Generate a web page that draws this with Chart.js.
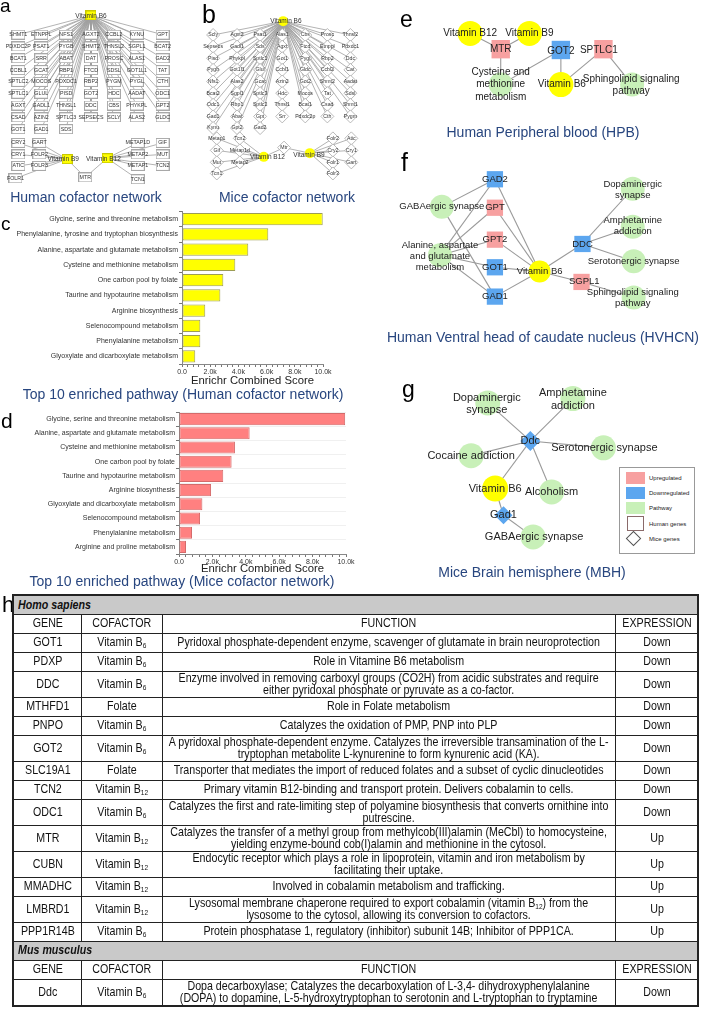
<!DOCTYPE html>
<html><head><meta charset="utf-8">
<script src="https://cdn.jsdelivr.net/npm/chart.js@4.4.1/dist/chart.umd.min.js"></script>
<style>
html,body{margin:0;padding:0;background:#fff}
body{width:709px;height:1019px;position:relative;overflow:hidden;font-family:"Liberation Sans",Arial,sans-serif}
canvas{position:absolute}
.t{position:absolute;white-space:nowrap;line-height:1;transform:translate(-50%,-50%);color:#28467f;font-size:14px}
.lab{position:absolute;line-height:1;color:#000;white-space:nowrap}
#tbl{position:absolute;left:12px;top:594px;width:685px;border-collapse:collapse;table-layout:fixed;font-family:"Liberation Sans",Arial,sans-serif;font-size:13px;color:#111;border:2px solid #222}
#tbl td{border:1px solid #222;padding:0;text-align:center;line-height:12.5px;vertical-align:middle;overflow:hidden;white-space:nowrap}
#tbl td .c{transform:scaleX(0.82);transform-origin:center center;text-align:center}
#tbl tr.s{height:19px}
#tbl tr.d{height:26px}
#tbl tr.g td{background:#c9c9c9;text-align:left;font-weight:bold;font-style:italic}
#tbl tr.g td .c{transform-origin:left center;text-align:left;padding-left:5px}
#tbl sub{font-size:8px;vertical-align:-2px;line-height:0}
#legend{position:absolute;left:619px;top:467px;width:76px;height:87px;border:1px solid #999;box-sizing:border-box;font-size:6px;color:#222;background:#fff}
#legend .it{position:absolute;left:6px;width:19px;height:12px}
#legend .tx{position:absolute;left:29px;transform:translateY(-50%);white-space:nowrap}
</style></head><body>
<script>
// ---------------- DATA ----------------
const humanPathways = ['Glycine, serine and threonine metabolism','Phenylalanine, tyrosine and tryptophan biosynthesis','Alanine, aspartate and glutamate metabolism','Cysteine and methionine metabolism','One carbon pool by folate','Taurine and hypotaurine metabolism','Arginine biosynthesis','Selenocompound metabolism','Phenylalanine metabolism','Glyoxylate and dicarboxylate metabolism'];
const humanScores = [9980, 6120, 4700, 3780, 2930, 2720, 1650, 1300, 1300, 940];
const micePathways = ['Glycine, serine and threonine metabolism','Alanine, aspartate and glutamate metabolism','Cysteine and methionine metabolism','One carbon pool by folate','Taurine and hypotaurine metabolism','Arginine biosynthesis','Glyoxylate and dicarboxylate metabolism','Selenocompound metabolism','Phenylalanine metabolism','Arginine and proline metabolism'];
const miceScores = [9950, 4230, 3350, 3150, 2650, 1920, 1400, 1260, 780, 420];
const scoreTickValues = [0, 2000, 4000, 6000, 8000, 10000];
const scoreTickLabels = ['0.0','2.0k','4.0k','6.0k','8.0k','10.0k'];

const humanB6Genes = ['SHMT1','ETNPPL','NFS1','AGXT2','CCBL2','KYNU','GPT',
 'PDXDC2P','PSAT1','PYGB','SHMT2','THNSL2','SGPL1','BCAT2',
 'BCAT1','SRR','ABAT','DAT','PROSC','ALAS1','GAD2',
 'CCBL1','GCAT','RBP1','FTCD','SDSL','GOT1L1','TAT',
 'SPTLC2','MOCOS','PDXDC1','RBP2','PYGM','PYGL','CTH',
 'SPTLC1','GLUL','PISD','GOT2','HDC','AADAT','ODC1',
 'AGXT','GADL1','THNSL1','DDC','CBS','PHYKPL','GPT2',
 'CSAD','AZIN2','SPTLC3','SEPSECS','SCLY','ALAS2','GLDC',
 'GOT1','GAD1','SDS'];
const humanB9Genes = ['CRY2','GART','CRY1','FOLR2','ATIC','FOLR3','FOLR1'];
const humanB12Genes = ['METAP1D','GIF','METAP2','MUT','METAP1','TCN2','TCN1'];
const miceB6Genes = ['Scly','Agxt2','Psat1','Alas1','Cbs','Prosc','Thnsl2',
 'Sepsecs','Gadl1','Sds','Agxt','Ftcd','Etnppl','Pdxdc1',
 'Pisd','Phykpl','Sptlc1','Got1','Pygl','Rbp2','Ddc',
 'Pygb','Got1l1','Glul','Ccbl1','Gldc','Ccbl2','Cat',
 'Nfs1','Alas2','Gcat','Azin2','Got2','Shmt2','Aadat',
 'Bcat2','Sgpl1','Sptlc3','Hdc','Mocos','Tat','Sdsl',
 'Odc1','Rbp1','Sptlc2','Thnsl1','Bcat1','Csad','Shmt1',
 'Gad1','Abat','Gpt','Srr','Pdxdc2p','Cth','Pygm',
 'Kynu','Gpt2','Gad2'];
const miceB12Genes = ['Metap1','Tcn2','Gif','Metap1d','Mut','Metap2','Tcn1'];
const miceB9Genes = ['Folr2','Atic','Cry2','Cry1','Folr1','Gart','Folr3'];

// panel e (HPB)
const hpbNames = ['Vitamin B12','Vitamin B9','MTR','GOT2','SPTLC1','Cysteine and\nmethionine\nmetabolism','Vitamin B6','Sphingolipid signaling\npathway'];
const hpbKinds = ['vit','vit','up','down','up','path','vit','path'];
const hpbEdges = [[0,2],[1,2],[2,5],[3,5],[3,6],[4,6],[4,7]];
// panel f (HVHCN)
const hvhcnNames = ['GAD2','GPT','GPT2','GOT1','GAD1','GABAergic synapse','Alanine, aspartate\nand glutamate\nmetabolism','Vitamin B6','DDC','SGPL1','Dopaminergic\nsynapse','Amphetamine\naddiction','Serotonergic synapse','Sphingolipid signaling\npathway'];
const hvhcnKinds = ['down','up','up','down','down','path','path','vit','down','up','path','path','path','path'];
const hvhcnEdges = [[0,5],[0,6],[0,7],[1,6],[1,7],[2,6],[2,7],[3,6],[3,7],[4,5],[4,6],[4,7],[7,8],[8,10],[8,11],[8,12],[7,9],[9,13]];
// panel g (MBH)
const mbhNames = ['Ddc','Dopaminergic\nsynapse','Amphetamine\naddiction','Serotonergic synapse','Cocaine addiction','Vitamin B6','Alcoholism','Gad1','GABAergic synapse'];
const mbhKinds = ['mdown','path','path','path','path','vit','path','mdown','path'];
const mbhEdges = [[0,1],[0,2],[0,3],[0,4],[0,5],[0,6],[5,7],[7,8]];
const legendLabels = ['Upregulated','Downregulated','Pathway','Human genes','Mice genes'];

// table h
const hsGenes = ['GOT1','PDXP','DDC','MTHFD1','PNPO','GOT2','SLC19A1','TCN2','ODC1','MTR','CUBN','MMADHC','LMBRD1','PPP1R14B'];
const hsCofactors = ['B6','B6','B6','Folate','B6','B6','Folate','B12','B6','B12','B12','B12','B12','B6'];
const hsFunctions = [
 'Pyridoxal phosphate-dependent enzyme, scavenger of glutamate in brain neuroprotection',
 'Role in Vitamine B6 metabolism',
 'Enzyme involved in removing carboxyl groups (CO2H) from acidic substrates and require\neither pyridoxal phosphate or pyruvate as a co-factor.',
 'Role in Folate metabolism',
 'Catalyzes the oxidation of PMP, PNP into PLP',
 'A pyridoxal phosphate-dependent enzyme. Catalyzes the irreversible transamination of the L-\ntryptophan metabolite L-kynurenine to form kynurenic acid (KA).',
 'Transporter that mediates the import of reduced folates and a subset of cyclic dinucleotides',
 'Primary vitamin B12-binding and transport protein. Delivers cobalamin to cells.',
 'Catalyzes the first and rate-limiting step of polyamine biosynthesis that converts ornithine into\nputrescine.',
 'Catalyzes the transfer of a methyl group from methylcob(III)alamin (MeCbl) to homocysteine,\nyielding enzyme-bound cob(I)alamin and methionine in the cytosol.',
 'Endocytic receptor which plays a role in lipoprotein, vitamin and iron metabolism by\nfacilitating their uptake.',
 'Involved in cobalamin metabolism and trafficking.',
 'Lysosomal membrane chaperone required to export cobalamin (vitamin B{12}) from the\nlysosome to the cytosol, allowing its conversion to cofactors.',
 'Protein phosphatase 1, regulatory (inhibitor) subunit 14B; Inhibitor of PPP1CA.'];
const hsExpression = ['Down','Down','Down','Down','Down','Down','Down','Down','Down','Up','Up','Up','Up','Up'];
const mmGenes = ['Ddc'];
const mmCofactors = ['B6'];
const mmFunctions = ['Dopa decarboxylase; Catalyzes the decarboxylation of L-3,4- dihydroxyphenylalanine\n(DOPA) to dopamine, L-5-hydroxytryptophan to serotonin and L-tryptophan to tryptamine'];
const mmExpression = ['Down'];
const tableHeader = ['GENE','COFACTOR','FUNCTION','EXPRESSION'];

// ---------------- LAYOUT (positions / styles) ----------------
const FAM = '"Liberation Sans", Arial, sans-serif';
Chart.defaults.font.family = FAM;
Chart.defaults.animation = false;

function mk(left, top, w, h){
  const c = document.createElement('canvas');
  c.width = w; c.height = h;
  c.style.left = left+'px'; c.style.top = top+'px';
  c.style.width = w+'px'; c.style.height = h+'px';
  document.body.appendChild(c);
  return c;
}
function text(cls, html, x, y, extra){
  const d = document.createElement('div');
  d.className = cls; d.innerHTML = html;
  d.style.left = x+'px'; d.style.top = y+'px';
  if (extra) Object.assign(d.style, extra);
  document.body.appendChild(d);
  return d;
}
function boxImg(w, h, fill, stroke){
  const c = document.createElement('canvas'); c.width = w; c.height = h;
  const g = c.getContext('2d');
  g.fillStyle = fill; g.fillRect(0,0,w,h);
  if (stroke){ g.strokeStyle = stroke; g.lineWidth = 1; g.strokeRect(0.5,0.5,w-1,h-1); }
  return c;
}

// ---------- bar charts ----------
const minorTicks = [];
for (let v = 0; v <= 10000; v += 400) minorTicks.push(v);
function barChart(box, labels, values, fill, stroke, barPct, gridColor){
  const cv = mk(box.left, box.top, box.w, box.h);
  return new Chart(cv, {
    type:'bar',
    data:{labels, datasets:[{data:values, backgroundColor:fill, borderColor:stroke, borderWidth:1, borderSkipped:false, barPercentage:barPct, categoryPercentage:1}]},
    options:{
      indexAxis:'y', responsive:false, animation:false, events:[],
      layout:{padding:{top:box.padTop, right:box.padRight, left:0, bottom:0}},
      plugins:{legend:{display:false}, tooltip:{enabled:false}},
      scales:{
        x:{type:'linear', min:0, max:10000,
          afterBuildTicks:(s)=>{ s.ticks = minorTicks.map(v=>({value:v})); },
          ticks:{autoSkip:false, maxRotation:0, font:{size:7}, color:'#333', padding:1,
            callback:(v)=>{ const i = scoreTickValues.indexOf(v); return i >= 0 ? scoreTickLabels[i] : ''; }},
          grid:{drawOnChartArea:false, tickLength:3, color:'#777'},
          border:{color:'#888'},
          title:{display:true, text:'Enrichr Combined Score', font:{size:11.3}, color:'#222', padding:0},
          afterFit:(s)=>{ s.height = box.xH; }},
        y:{ticks:{autoSkip:false, font:{size:7}, color:'#333', padding:1},
          grid:{drawOnChartArea:!!gridColor, color:gridColor||'#777', tickColor:'#777', tickLength:3},
          border:{color:'#888'},
          afterFit:(s)=>{ s.width = box.yW; }}
      }
    }
  });
}
barChart({left:0, top:205, w:335, h:183, padTop:6.5, padRight:12, yW:182, xH:24}, humanPathways, humanScores, '#ffff00', '#9c9c55', 0.8, null);
barChart({left:0, top:405, w:358, h:171, padTop:7, padRight:12, yW:179, xH:22}, micePathways, miceScores, '#ff8080', '#d46a6a', 0.85, '#f0f0f0');

// ---------- networks ----------
function network(box, nodes, edges, lab){
  const cv = mk(box.left, box.top, box.w, box.h);
  const ds = [{
    data: nodes.map(n=>({x:n.x, y:n.y})),
    pointStyle: nodes.map(n=>n.style),
    pointRadius: nodes.map(n=>n.r),
    pointBackgroundColor: nodes.map(n=>n.bg),
    pointBorderColor: nodes.map(n=>n.bd || n.bg),
    pointBorderWidth: nodes.map(n=>n.bw || 0),
    showLine:false, clip:false, order:0
  }];
  edges.forEach(([a,b])=>{
    ds.push({data:[{x:nodes[a].x, y:nodes[a].y},{x:nodes[b].x, y:nodes[b].y}], showLine:true, pointRadius:0,
      borderColor: lab.edge || '#9a9a9a', borderWidth: lab.ew || 1, clip:false, order:1});
  });
  return new Chart(cv, {
    type:'scatter',
    data:{datasets:ds},
    options:{responsive:false, animation:false, events:[],
      layout:{padding:0},
      plugins:{legend:{display:false}, tooltip:{enabled:false}},
      scales:{x:{type:'linear', display:false, min:box.left, max:box.left+box.w},
              y:{type:'linear', display:false, min:box.top, max:box.top+box.h, reverse:true}}},
    plugins:[{id:'nodeLabels', afterDatasetsDraw(chart){
      const ctx = chart.ctx, xs = chart.scales.x, ys = chart.scales.y;
      ctx.save(); ctx.fillStyle = lab.color; ctx.textAlign = 'center'; ctx.textBaseline = 'middle';
      nodes.forEach(n=>{
        if (!n.label) return;
        const sz = n.size || lab.size;
        ctx.font = sz + 'px ' + FAM;
        const lines = n.label.split('\n');
        const lh = lab.lh || sz*1.2;
        const px = xs.getPixelForValue(n.lx ?? n.x), py = ys.getPixelForValue(n.ly ?? n.y);
        lines.forEach((t,i)=>ctx.fillText(t, px, py + (i-(lines.length-1)/2)*lh));
      });
      ctx.restore();
    }}]
  });
}

const COL = {vit:'#ffff00', up:'#f7a0a0', down:'#5ca6ef', path:'#c8f0b8'};

// panel a
(function(){
  const gx = [15,39,65,91,115,139,166], gy0 = 32, gdy = 12.33;
  const box = boxImg(14,10,'#ffffff','#a8a8a8');
  const yb = boxImg(11,10,'#ffff00','#c8c800');
  const nodes = [{x:91, y:12, style:yb, r:3, bg:'#ff0', label:'Vitamin B6', size:6.5, ly:13}];
  humanB6Genes.forEach((g,i)=>nodes.push({x:gx[i%7], y:gy0+gdy*Math.floor(i/7), style:box, r:3, bg:'#fff', label:g}));
  const b9 = nodes.length; nodes.push({x:66, y:162, style:yb, r:3, bg:'#ff0', label:'Vitamin B9', size:6.5, lx:62});
  const b12 = nodes.length; nodes.push({x:108, y:161, style:yb, r:3, bg:'#ff0', label:'Vitamin B12', size:6.5, lx:104, ly:162});
  const mtr = nodes.length; nodes.push({x:85, y:181, style:box, r:3, bg:'#fff', label:'MTR'});
  const lx = [15,37], rx = [140,166], by = [145,157,169,182];
  const edges = [];
  for (let i = 1; i <= humanB6Genes.length; i++) edges.push([0,i]);
  humanB9Genes.forEach((g,i)=>{ nodes.push({x:i===6?12:lx[i%2], y:by[Math.floor(i/2)], style:box, r:3, bg:'#fff', label:g}); edges.push([b9, nodes.length-1]); });
  humanB12Genes.forEach((g,i)=>{ nodes.push({x:rx[i%2], y:by[Math.floor(i/2)]+(i===6?1:0), style:box, r:3, bg:'#fff', label:g}); edges.push([b12, nodes.length-1]); });
  edges.push([b9,mtr],[b12,mtr]);
  network({left:0, top:0, w:180, h:190}, nodes, edges, {color:'#333', size:5.3, edge:'#a0a0a0', ew:0.8});
})();

// panel b
(function(){
  const gx = [208,234,259,283,308,332,357], gy0 = 30, gdy = 12.6;
  const nodes = [{x:284, y:15, style:'circle', r:5, bg:'#ffff00', label:'Vitamin B6', size:6.5, lx:287}];
  const dia = (x,y,g)=>({x, y, style:'rectRot', r:6.5, bg:'#fff', bd:'#a8a8a8', bw:0.8, label:g});
  miceB6Genes.forEach((g,i)=>nodes.push(dia(gx[i%7], gy0+gdy*Math.floor(i/7), g)));
  const edges = [];
  for (let i = 1; i <= miceB6Genes.length; i++) edges.push([0,i]);
  const b12 = nodes.length; nodes.push({x:263, y:162, style:'circle', r:5, bg:'#ffff00', label:'Vitamin B12', size:6.5, lx:267});
  const b9 = nodes.length; nodes.push({x:313, y:158, style:'circle', r:5, bg:'#ffff00', label:'Vitamin B9', size:6.5, lx:312, ly:160});
  const mtr = nodes.length; nodes.push(dia(285,152,'Mtr'));
  const lx = [212,237], rx = [338,358], by = [142,155,168,180];
  miceB12Genes.forEach((g,i)=>{ nodes.push(dia(lx[i%2], by[Math.floor(i/2)], g)); edges.push([b12, nodes.length-1]); });
  miceB9Genes.forEach((g,i)=>{ nodes.push(dia(rx[i%2], by[Math.floor(i/2)], g)); edges.push([b9, nodes.length-1]); });
  edges.push([b12,mtr],[b9,mtr]);
  network({left:180, top:0, w:186, h:190}, nodes, edges, {color:'#333', size:5.2, edge:'#a0a0a0', ew:0.8});
})();

function styleNode(kind, sizes){
  if (kind === 'vit') return {style:'circle', r:sizes.vit, bg:COL.vit};
  if (kind === 'path') return {style:'circle', r:sizes.path, bg:COL.path};
  if (kind === 'up') return {style:'rect', r:sizes.sq, bg:COL.up};
  if (kind === 'down') return {style:'rect', r:sizes.sq, bg:COL.down};
  return {style:'rectRot', r:sizes.dia, bg:COL.down};
}
function smallNet(box, names, kinds, xs, ys, lxs, lys, edges, sizes, font, lh){
  const nodes = names.map((n,i)=>Object.assign({x:xs[i], y:ys[i], label:n, lx:lxs[i], ly:lys[i]}, styleNode(kinds[i], sizes)));
  if (sizes.over) sizes.over.forEach(([i,r])=>nodes[i].r = r);
  network(box, nodes, edges, {color:'#222', size:font, lh:lh, edge:'#9a9a9a', ew:1.1});
}
// e
smallNet({left:360, top:0, w:349, h:122}, hpbNames, hpbKinds,
  [465,529,498,563,609,498,563,640], [26,26,46,47,46,91,91,91],
  [465,529,498,563,604,498,564,639], [26,26,46,48,47,91,91,91.5],
  hpbEdges, {vit:12.5, path:12, sq:13}, 10, 12.5);
// f
smallNet({left:360, top:150, w:349, h:175}, hvhcnNames, hvhcnKinds,
  [492,492,492,492,492,435,433,540,586,585,640,640,641,641], [170,203,240,272,306,202,258,277,245,289,181,225,265,307],
  [492,492,492,492,492,435,433,540,586,588,640,640,641,640], [170,203,240,272,306,202,259,277,245,288,182.5,224.5,265,307.5],
  hvhcnEdges, {vit:11, path:12, sq:11.5}, 9.5, 11);
// g
smallNet({left:360, top:370, w:349, h:192}, mbhNames, mbhKinds,
  [530,484,576,609,466,492,553,501,533], [437,393,388,445,454,492,496,523,548],
  [530,483,576,610,466,492,553,501,534], [437,394.5,389,445,454,492,496,523,548],
  mbhEdges, {vit:13, path:12.5, sq:12, dia:10, over:[[7,9]]}, 11, 12.5);

// legend (g)
(function(){
  const lg = document.createElement('div'); lg.id = 'legend'; document.body.appendChild(lg);
  const sw = [['#f7a0a0',null],['#5ca6ef',null],['#c8f0b8',null],['#fff','#8a6a6a'],['dia','#555']];
  const ys = [4, 19, 34, 48, 65];
  legendLabels.forEach((t,i)=>{
    const it = document.createElement('div'); it.className = 'it'; it.style.top = ys[i]+'px';
    if (sw[i][0] === 'dia'){
      it.style.width='11px'; it.style.height='11px'; it.style.left='8px'; it.style.border='1px solid '+sw[i][1];
      it.style.transform='rotate(45deg)'; it.style.boxSizing='border-box'; it.style.background='#fff';
    } else {
      it.style.background = sw[i][0]; if (i===3){ it.style.height='15px'; it.style.width='17px'; it.style.left='7px'; }
      if (sw[i][1]) { it.style.border='1px solid '+sw[i][1]; it.style.boxSizing='border-box'; }
    }
    lg.appendChild(it);
    const tx = document.createElement('div'); tx.className = 'tx'; tx.textContent = t;
    tx.style.top = (ys[i] + (i===3?8:6))+'px';
    lg.appendChild(tx);
  });
})();

// titles & panel letters
text('t','Human cofactor network',86,197);
text('t','Mice cofactor network',287,197);
text('t','Top 10 enriched pathway (Human cofactor network)',183,394);
text('t','Top 10 enriched pathway (Mice cofactor network)',182,581);
text('t','Human Peripheral blood (HPB)',543,132);
text('t','Human Ventral head of caudate nucleus (HVHCN)',543,337);
text('t','Mice Brain hemisphere (MBH)',532,572);
[['a',0,-4,19],['b',202,2,25],['c',1,214,19],['d',1,410,21],['e',400,7.5,23],['f',401,150,25],['g',402,377.5,23],['h',2,594,22]]
 .forEach(([l,x,y,s])=>text('lab',l,x,y,{fontSize:s+'px'}));

// table h
(function(){
  const S = 0.82;
  const colW = [68,81,453,83];
  const t = document.createElement('table'); t.id = 'tbl';
  const cg = document.createElement('colgroup');
  colW.forEach(w=>{ const c = document.createElement('col'); c.style.width = w+'px'; cg.appendChild(c); });
  t.appendChild(cg);
  const cof = c => c === 'Folate' ? 'Folate' : 'Vitamin B<sub>'+c.slice(1)+'</sub>';
  const fn = s => s.replace(/B\{(\d+)\}/g,'B<sub>$1</sub>').replace(/\n/g,'<br>');
  function row(cls, cells, span){
    const tr = document.createElement('tr'); tr.className = cls;
    cells.forEach((c,i)=>{
      const td = document.createElement('td');
      const d = document.createElement('div'); d.className = 'c'; d.innerHTML = c;
      if (span){ td.colSpan = 4; }
      else {
        const w = colW[i] - 1, ww = w / S;
        d.style.width = ww+'px'; d.style.marginLeft = ((w - ww)/2)+'px';
      }
      td.appendChild(d); tr.appendChild(td);
    });
    t.appendChild(tr); return tr;
  }
  function group(title, genes, cofs, fns, exps){
    row('s g', [title], true);
    row('s', tableHeader);
    genes.forEach((gname,i)=>row(fns[i].includes('\n') ? 'd' : 's', [gname, cof(cofs[i]), fn(fns[i]), exps[i]]));
  }
  group('Homo sapiens', hsGenes, hsCofactors, hsFunctions, hsExpression);
  group('Mus musculus', mmGenes, mmCofactors, mmFunctions, mmExpression);
  document.body.appendChild(t);
})();
</script>
</body></html>
